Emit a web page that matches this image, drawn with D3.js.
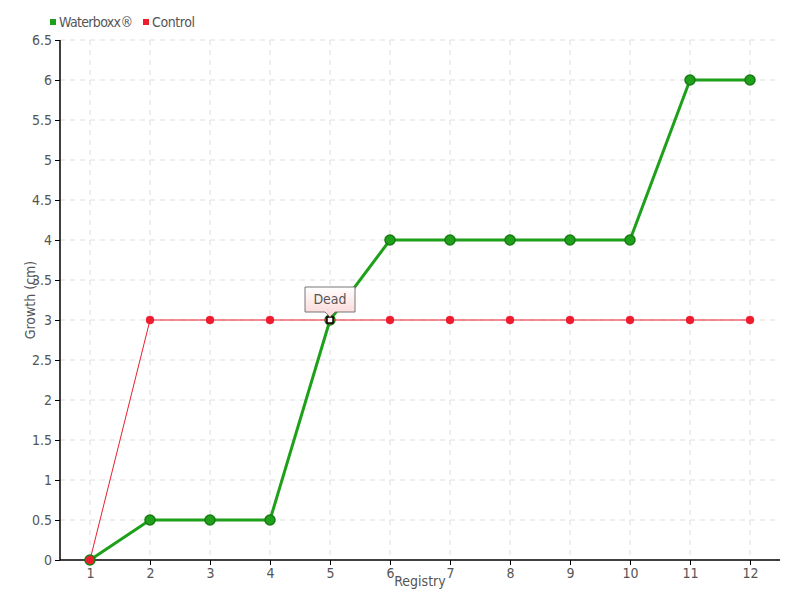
<!DOCTYPE html>
<html><head><meta charset="utf-8">
<script src="https://cdn.jsdelivr.net/npm/d3@7"></script>
<style>
body{margin:0;background:#fff;}
text{font-family:"DejaVu Sans Condensed","DejaVu Sans",sans-serif;}
</style></head>
<body><svg id="c" width="800" height="600"></svg>
<script>
const categories = ["1","2","3","4","5","6","7","8","9","10","11","12"];
const waterboxx = [0,0.5,0.5,0.5,3,4,4,4,4,4,6,6];
const control = [0,3,3,3,3,3,3,3,3,3,3,3];
const yTicks = [0,0.5,1,1.5,2,2.5,3,3.5,4,4.5,5,5.5,6,6.5];
const seriesNames = ["Waterboxx®","Control"];
const deadIndex = 4;
const deadLabel = "Dead";

const svg = d3.select("#c");
const x = d3.scalePoint().domain(categories).range([90,750]);
const y = d3.scaleLinear().domain([0,6.5]).range([560,40]);
const green = "#1fa01a", greenDark = "#167a12", red = "#ee1c2e";

// grid
const g = svg.append("g");
g.selectAll(".hg").data(yTicks.slice(1)).join("line")
  .attr("x1",60).attr("x2",780).attr("y1",d=>y(d)).attr("y2",d=>y(d))
  .attr("stroke","#ddd").attr("stroke-dasharray","5,5");
g.selectAll(".vg").data(categories).join("line")
  .attr("x1",d=>x(d)).attr("x2",d=>x(d)).attr("y1",40).attr("y2",560)
  .attr("stroke","#ddd").attr("stroke-dasharray","5,5");

// axes
const yAxis = svg.append("g").attr("transform","translate(60,0)")
  .call(d3.axisLeft(y).tickValues(yTicks).tickFormat(d3.format("")).tickSize(5).tickPadding(3));
const xAxis = svg.append("g").attr("transform","translate(0,560)")
  .call(d3.axisBottom(x).tickSize(5).tickPadding(3));
xAxis.select(".domain").attr("d","M60,0H780");
yAxis.select(".domain").attr("d","M0,40V560");
[xAxis,yAxis].forEach(a=>{
  a.selectAll(".domain").attr("stroke","#000").attr("stroke-width",1.5);
  a.selectAll(".tick line").attr("stroke","#000");
  a.selectAll("text").attr("fill","#555").attr("font-size",14)
    .attr("font-family","'DejaVu Sans Condensed','DejaVu Sans',sans-serif");
});

// axis titles
svg.append("text").attr("x",420).attr("y",586).attr("text-anchor","middle")
  .attr("fill","#555").attr("font-size",14).text("Registry");
svg.append("text").attr("transform","translate(35,300) rotate(-90)").attr("text-anchor","middle")
  .attr("fill","#555").attr("font-size",14).text("Growth (cm)");

// lines
const line = d3.line().x((d,i)=>x(categories[i])).y(d=>y(d));
svg.append("path").datum(waterboxx).attr("d",line).attr("fill","none")
  .attr("stroke",green).attr("stroke-width",3);
svg.selectAll(".gp").data(waterboxx).join("circle")
  .attr("cx",(d,i)=>x(categories[i])).attr("cy",d=>y(d)).attr("r",5)
  .attr("fill",green).attr("stroke",greenDark).attr("stroke-width",1.5);
svg.append("path").datum(control).attr("d",line).attr("fill","none")
  .attr("stroke",red).attr("stroke-width",1);
svg.selectAll(".rp").data(control).join("circle")
  .attr("cx",(d,i)=>x(categories[i])).attr("cy",d=>y(d)).attr("r",4)
  .attr("fill",red).attr("stroke",red).attr("stroke-width",0.5);

// dead marker
const dx = x(categories[deadIndex]), dy = y(control[deadIndex]);
svg.append("rect").attr("x",dx-3).attr("y",dy-3).attr("width",6).attr("height",6)
  .attr("fill","#fff").attr("stroke","#000").attr("stroke-width",1.5);

// tooltip
const defs = svg.append("defs");
const grad = defs.append("linearGradient").attr("id","tg").attr("x1",0).attr("x2",0).attr("y1",0).attr("y2",1);
grad.append("stop").attr("offset","0%").attr("stop-color","#fff");
grad.append("stop").attr("offset","100%").attr("stop-color","#fbd5d5");
const tw=50, th=25, tx=dx-25, ty=dy-33;
svg.append("path")
  .attr("d",`M${tx},${ty}H${tx+tw}V${ty+th}H${dx+5}L${dx},${ty+th+5}L${dx-5},${ty+th}H${tx}Z`)
  .attr("fill","url(#tg)").attr("stroke","#777").attr("stroke-width",1);
svg.append("text").attr("x",dx).attr("y",ty+17).attr("text-anchor","middle")
  .attr("fill","#555").attr("font-size",14).text(deadLabel);

// legend
const leg = svg.append("g");
const legX = [50,143];
[green,red].forEach((c,i)=>{
  leg.append("rect").attr("x",legX[i]).attr("y",19).attr("width",6).attr("height",6).attr("fill",c);
  leg.append("text").attr("x",legX[i]+9).attr("y",27).attr("fill","#555").attr("font-size",14)
    .attr("textLength", i===0 ? 74 : 43).text(seriesNames[i]);
});
</script></body></html>
